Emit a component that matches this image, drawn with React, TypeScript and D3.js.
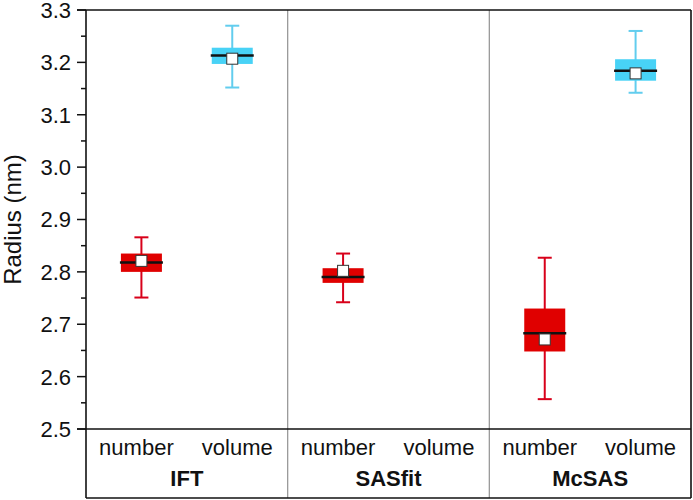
import React from "react";
import * as d3 from "d3";

const groups = ["IFT", "SASfit", "McSAS"];
const kinds = ["number", "volume"];
// box stats per (group, kind): [low whisker, q1, median, q3, high whisker, mean]
const groupOf = ["IFT", "IFT", "SASfit", "McSAS", "McSAS"];
const kindOf = ["number", "volume", "number", "number", "volume"];
const whiskerLow = [2.751, 3.152, 2.742, 2.557, 3.142];
const q1 = [2.800, 3.197, 2.779, 2.648, 3.165];
const median = [2.818, 3.213, 2.790, 2.683, 3.184];
const q3 = [2.835, 3.228, 2.807, 2.730, 3.206];
const whiskerHigh = [2.866, 3.270, 2.835, 2.827, 3.260];
const means = [2.821, 3.207, 2.802, 2.671, 3.179];
const yTicks = [2.5, 2.6, 2.7, 2.8, 2.9, 3.0, 3.1, 3.2, 3.3];
const yMinorTicks = [2.55, 2.65, 2.75, 2.85, 2.95, 3.05, 3.15, 3.25];

const W = 693, H = 500;
const left = 86, right = 691, top = 10, plotBottom = 429, outerBottom = 498;

const boxFill: Record<string, string> = { number: "#e00000", volume: "#48d2f6" };
const whiskerColor: Record<string, string> = { number: "#d8001a", volume: "#62cdee" };

export default function App() {
  const y = d3.scaleLinear().domain([2.5, 3.3]).range([plotBottom, top]);
  const gx = d3.scaleBand<string>().domain(groups).range([left, right]).padding(0);
  const bw = gx.bandwidth();
  const inLabel = d3.scalePoint<string>().domain(kinds).range([0, bw]).padding(0.5);
  const inBox = d3.scalePoint<string>().domain(kinds).range([0, bw]).padding(0.61);
  const boxW = 41, capW = 14, sq = 11;
  const font = "'Liberation Sans', Arial, Helvetica, sans-serif";

  return (
    <svg width={W} height={H} style={{ position: "absolute", left: 0, top: 0, background: "#fff" }} fontFamily={font}>
      <rect x={0} y={0} width={W} height={H} fill="#fff" />
      {/* group separators */}
      {groups.slice(1).map((g) => (
        <line key={g} x1={gx(g)!} x2={gx(g)!} y1={top} y2={outerBottom} stroke="#9a9a9a" strokeWidth={1.3} />
      ))}
      {/* boxes */}
      {groupOf.map((g, i) => {
        const cx = gx(g)! + inBox(kindOf[i])!;
        const k = kindOf[i];
        return (
          <g key={i}>
            <line x1={cx} x2={cx} y1={y(whiskerLow[i])} y2={y(whiskerHigh[i])} stroke={whiskerColor[k]} strokeWidth={2} />
            <line x1={cx - capW / 2} x2={cx + capW / 2} y1={y(whiskerLow[i])} y2={y(whiskerLow[i])} stroke={whiskerColor[k]} strokeWidth={2} />
            <line x1={cx - capW / 2} x2={cx + capW / 2} y1={y(whiskerHigh[i])} y2={y(whiskerHigh[i])} stroke={whiskerColor[k]} strokeWidth={2} />
            <rect x={cx - boxW / 2} y={y(q3[i])} width={boxW} height={y(q1[i]) - y(q3[i])} fill={boxFill[k]} />
            <line x1={cx - boxW / 2 - 1} x2={cx + boxW / 2 + 1} y1={y(median[i])} y2={y(median[i])} stroke="#111" strokeWidth={2.5} />
            <rect x={cx - sq / 2} y={y(means[i]) - sq / 2} width={sq} height={sq} fill="#fff" stroke="#333" strokeWidth={1} />
          </g>
        );
      })}
      {/* frame */}
      <line x1={left - 9} x2={right} y1={top} y2={top} stroke="#111" strokeWidth={1.6} />
      <line x1={left - 9} x2={right} y1={plotBottom} y2={plotBottom} stroke="#111" strokeWidth={1.6} />
      <line x1={left} x2={right} y1={outerBottom} y2={outerBottom} stroke="#111" strokeWidth={1.6} />
      <line x1={left} x2={left} y1={top} y2={outerBottom} stroke="#111" strokeWidth={1.6} />
      <line x1={right} x2={right} y1={top} y2={outerBottom} stroke="#111" strokeWidth={1.6} />
      {/* y ticks */}
      {yTicks.map((t) => (
        <g key={t}>
          <line x1={left - 9} x2={left} y1={y(t)} y2={y(t)} stroke="#111" strokeWidth={1.5} />
          <text x={left - 15} y={y(t)} dy="0.36em" textAnchor="end" fontSize={22} fill="#111">
            {d3.format(".1f")(t)}
          </text>
        </g>
      ))}
      {yMinorTicks.map((t) => (
        <line key={t} x1={left - 5} x2={left} y1={y(t)} y2={y(t)} stroke="#111" strokeWidth={1.5} />
      ))}
      <text transform={`translate(${21},${(top + plotBottom) / 2}) rotate(-90)`} textAnchor="middle" fontSize={24} fill="#111">
        Radius (nm)
      </text>
      {/* category labels */}
      {groups.map((g) => (
        <g key={g}>
          {kinds.map((k) => (
            <text key={k} x={gx(g)! + inLabel(k)!} y={455} textAnchor="middle" fontSize={22} fill="#111">
              {k}
            </text>
          ))}
          <text x={gx(g)! + bw / 2} y={486} textAnchor="middle" fontSize={22} fontWeight="bold" fill="#111">
            {g}
          </text>
        </g>
      ))}
    </svg>
  );
}
